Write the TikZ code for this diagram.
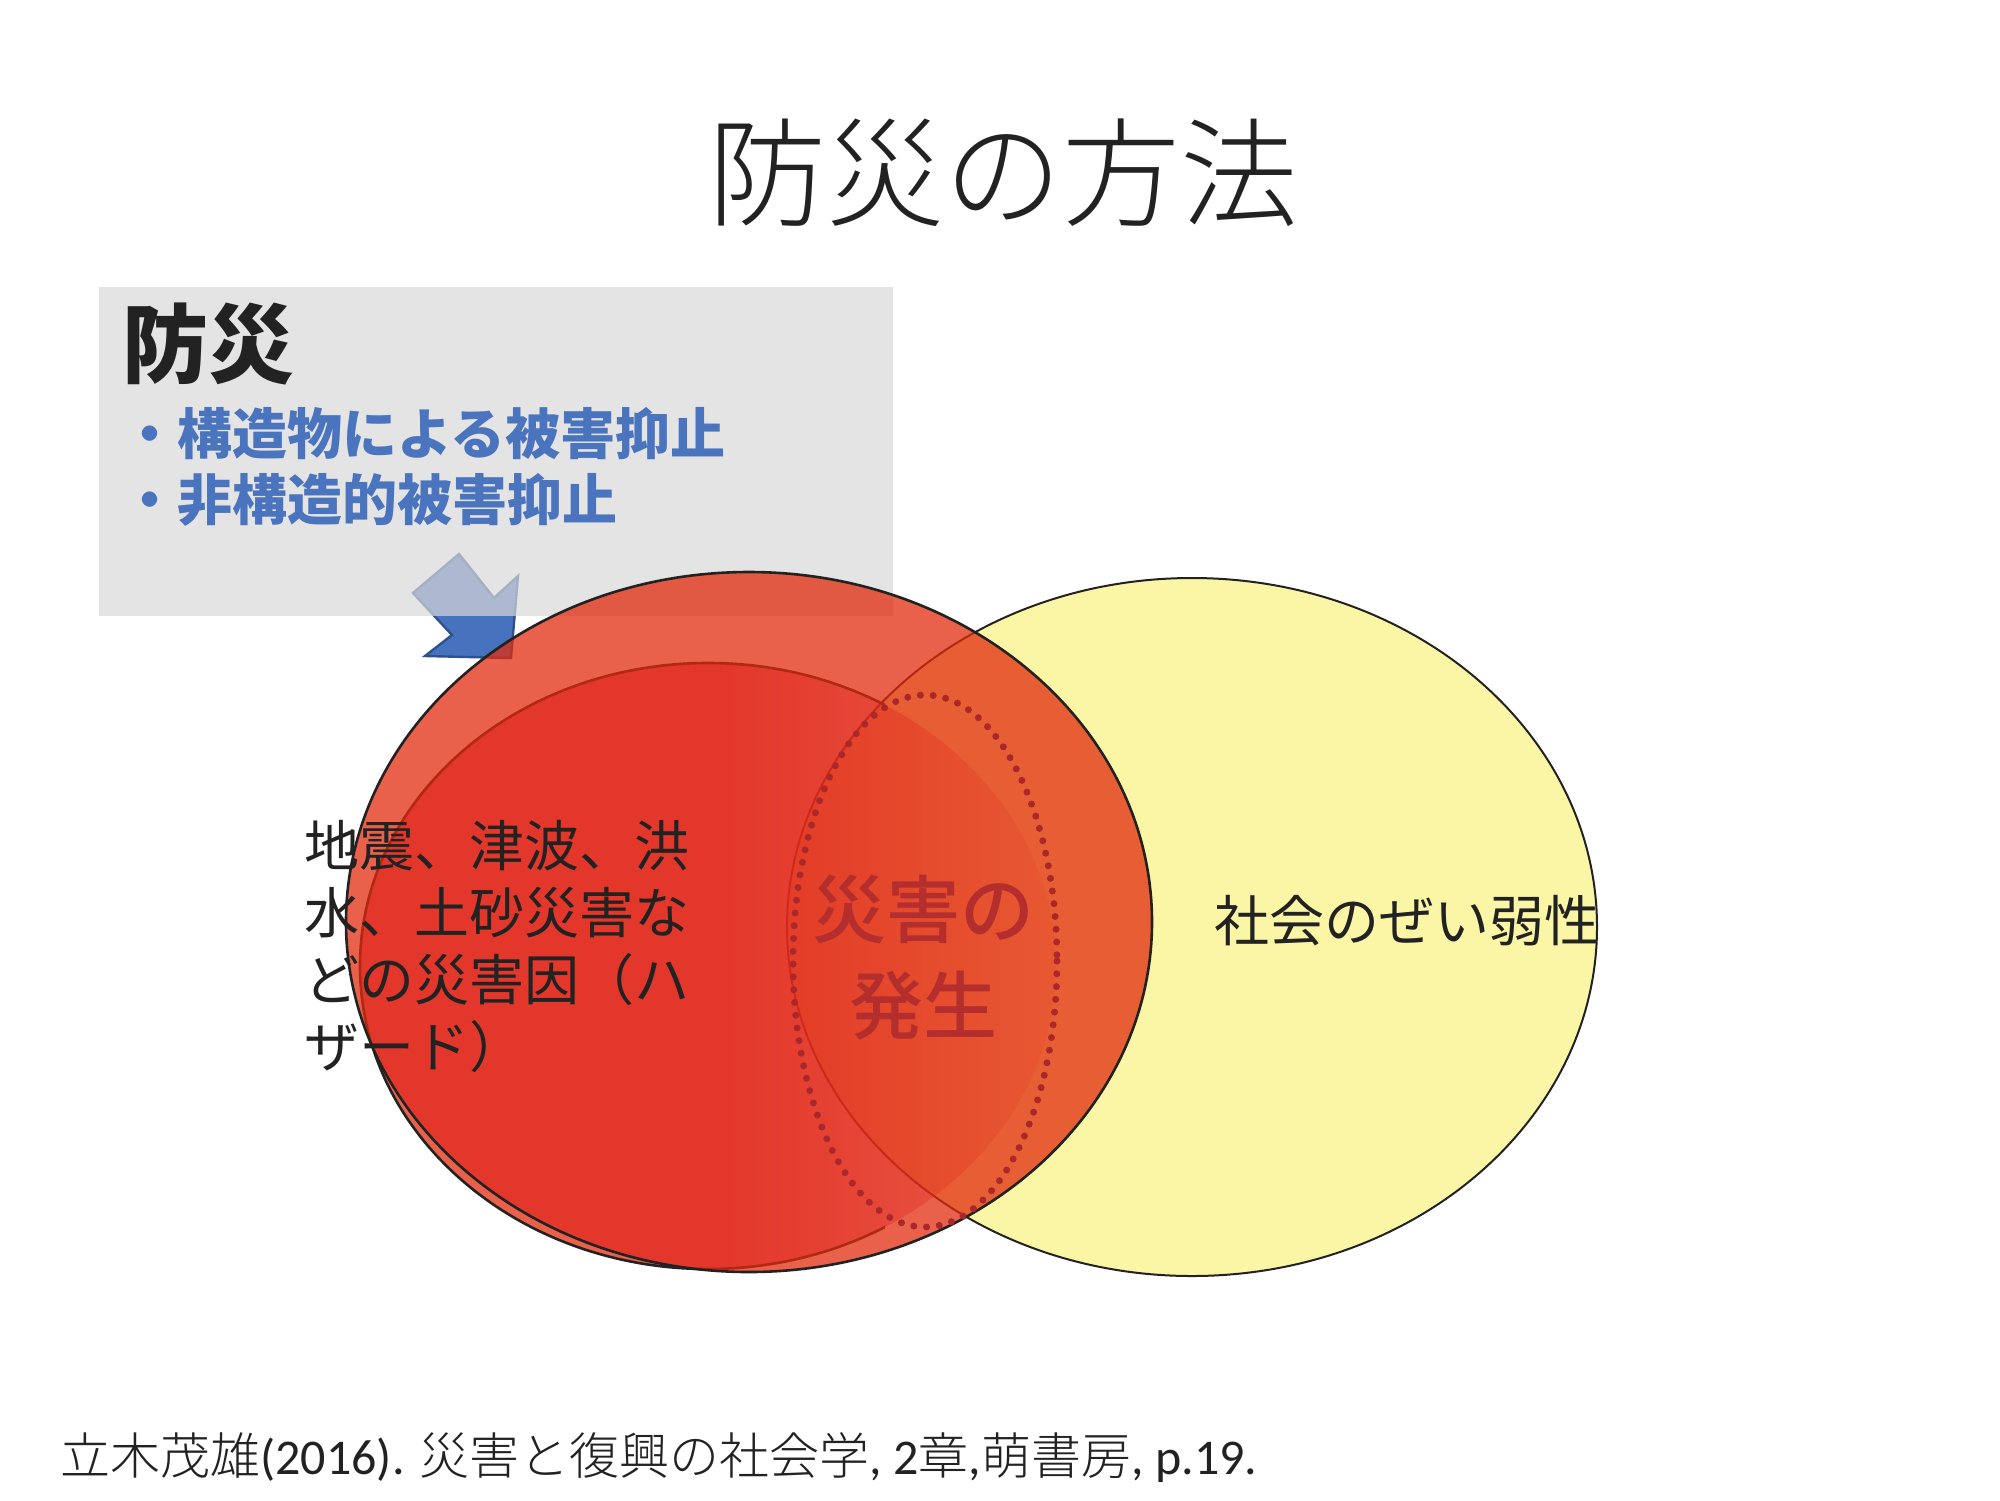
\documentclass[tikz,border=0pt]{standalone}
\usepackage{fontspec}
\setmainfont{Noto Sans CJK JP}
\newfontfamily\lightfont{Noto Sans CJK JP Light}
\newfontfamily\mediumfont{Noto Sans CJK JP Medium}
\newfontfamily\latinfont{Carlito}
\usepackage{xcolor}
\definecolor{darkgray}{HTML}{222222}
\definecolor{boxgray}{RGB}{216,216,216}
\definecolor{itemblue}{RGB}{74,116,189}
\definecolor{arrowblue}{RGB}{70,114,190}
\definecolor{arrowline}{RGB}{47,82,143}
\definecolor{hazardred}{RGB}{226,44,14}
\definecolor{innerred}{RGB}{226,35,95}
\definecolor{lightyellow}{RGB}{250,246,166}
\definecolor{deepred}{RGB}{180,46,46}
\definecolor{dotred}{RGB}{170,40,42}
\usepackage{tikz}
\usetikzlibrary{positioning,fadings}

\begin{document}
\begin{tikzpicture}[x=0.5pt, y=-0.5pt, node distance = 45pt,
		txt/.style={inner sep=0pt, text=darkgray, align=left},
		item/.style={inner sep=0pt, text=itemblue, anchor=west,
					font=\fontsize{27.5}{33}\selectfont\bfseries},
		circ/.style={draw=darkgray, line width=1.3pt}]
		\useasboundingbox (0,0) rectangle (2000,1500);
		% arrow, half under the grey box
		\filldraw[fill=arrowblue, draw=arrowline, line width=1.2pt]
			(459,554) -- (494,598) -- (518,576) -- (511,658) -- (425,656) -- (452,635) -- (413,593) -- cycle;
		\fill[boxgray, opacity=.7] (99,287) rectangle (893,616);
		% vulnerability
		\draw[circ, line width=1pt, fill=lightyellow] (1192,927) ellipse [x radius=405, y radius=349];
		% hazard, fading out to the right
		\begin{scope}
			\clip (708,966) ellipse [x radius=348, y radius=303];
			\fill[hazardred, opacity=.75, even odd rule] (749,922) ellipse [x radius=403, y radius=350]
				(300,600) rectangle (1200,1320);
			\clip (749,922) ellipse [x radius=403, y radius=350];
			\fill[innerred, opacity=.75] (340,640) rectangle (730,1300);
			\fill[innerred, opacity=.75, path fading=east] (730,640) rectangle (1110,1300);
		\end{scope}
		\begin{scope}
			\clip (0,0) rectangle (885,1500);
			\draw[circ] (708,966) ellipse [x radius=348, y radius=303];
		\end{scope}
		\draw[circ, fill=hazardred, fill opacity=.75] (749,922) ellipse [x radius=403, y radius=350];
		% disaster
		\draw[dotred, line width=3.5pt, dash pattern=on 0pt off 6.4pt, line cap=round]
			(925,961) ellipse [x radius=132, y radius=266];
		% texts
		\node (T) [txt] at (1003,173) {\lightfont\fontsize{59}{59}\selectfont 防災の方法};
		\node (P) [txt, anchor=west, font=\fontsize{43}{43}\selectfont\bfseries] at (122,344) {防災};
		\node (P1) [item, below=of P.west, anchor=west] {・構造物による被害抑止};
		\node (P2) [item, below=33pt of P1.west, anchor=west] {・非構造的被害抑止};
		\node (H) [txt, anchor=west, font=\fontsize{27.5}{33.5}\selectfont] at (304,946)
			{地震、津波、洪\\水、土砂災害な\\どの災害因（ハ\\ザード）};
		\node (V) [txt, anchor=west, font=\fontsize{27.5}{33.5}\selectfont] at (1214,921) {社会のぜい弱性};
		\node (D) [inner sep=0pt, align=center, text=deepred,
			font=\mediumfont\fontsize{37}{48}\selectfont] at (923,958) {災害の\\発生};
		\node (R) [txt, anchor=west, font=\lightfont\fontsize{25}{25}\selectfont] at (60,1458)
			{立木茂雄{\latinfont (2016). }災害と復興の社会学{\latinfont , 2}章{\latinfont ,}萌書房{\latinfont , p.19.}};
	\end{tikzpicture}
\end{document}
